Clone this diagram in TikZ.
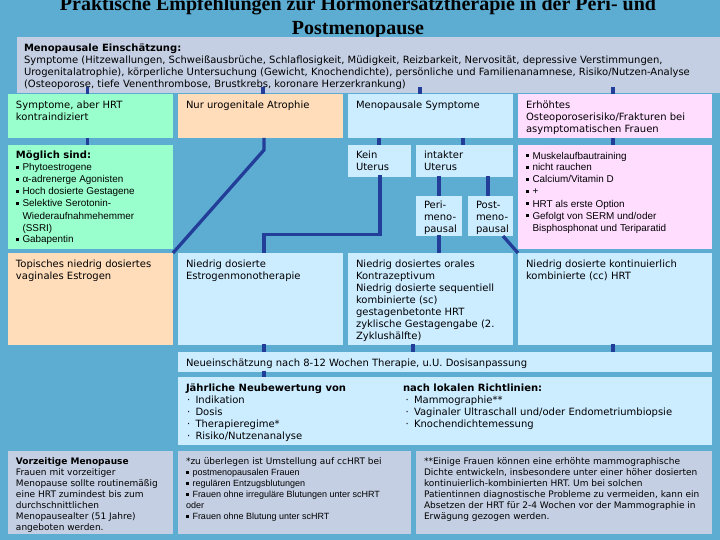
\documentclass[tikz,border=0pt]{standalone}
\usepackage{fontspec}
\setmainfont{DejaVu Sans}
\newfontfamily\titlefont{Liberation Serif}
\newfontfamily\listfont{Liberation Sans}
\definecolor{bgc}{HTML}{5DADD2}
\definecolor{greyc}{HTML}{C4CFE3}
\definecolor{greenc}{HTML}{99FFCC}
\definecolor{peachc}{HTML}{FFDDBB}
\definecolor{bluec}{HTML}{CCECFF}
\definecolor{pinkc}{HTML}{FFDDFF}
\definecolor{linec}{HTML}{233E99}
\newcommand{\bxd}[6]{\node[boxn,fill=#6,minimum width={(#4-#2)*1pt},minimum height={(#5-#3)*1pt}] (#1) at ({(#2+#4)/2},{(#3+#5)/2}) {};}
\newcommand{\lb}{\rule[1.8pt]{3pt}{3pt}\hspace{3.5pt}}
\newcommand{\lc}{\hspace*{6.5pt}}
\newcommand{\dt}{\makebox[8.5pt][l]{·}}
\tikzset{
  boxn/.style={inner sep=0pt,outer sep=0pt,draw=none,rectangle},
  txt/.style={anchor=north west,inner sep=0pt,outer sep=0pt,align=left,text=black,yshift=-1pt,font=\fontsize{10}{12}\selectfont},
  txts/.style={txt,yshift=-0.7pt,font=\fontsize{9}{10.9}\selectfont},
  lst/.style={txt,font=\listfont\fontsize{9.9}{12}\selectfont},
  lsts/.style={txt,yshift=-0.7pt,font=\listfont\fontsize{9}{10.9}\selectfont},
  ttl/.style={inner sep=0pt,align=center,text=black,font=\titlefont\bfseries\fontsize{20}{24}\selectfont},
  conn/.style={draw=linec,line width=3.3pt}
}
\begin{document}
\begin{tikzpicture}[x=1pt,y=-1pt]
\useasboundingbox (0,0) rectangle (720,540);
\fill[bgc] (0,0) rectangle (720,540);
\node[ttl] (title) at (358,16.5) {\strut Praktische Empfehlungen zur Hormonersatztherapie in der Peri- und\\Postmenopause};
% boxes
\bxd{hdr}{17}{37}{720}{93}{greyc}
\bxd{a1}{8}{94}{173}{138}{greenc}
\bxd{b1}{178}{94}{343}{138}{peachc}
\bxd{c1}{348}{94}{513}{138}{bluec}
\bxd{d1}{518}{94}{712}{138}{pinkc}
\bxd{a2}{8}{145}{173}{249}{greenc}
\bxd{kein}{348}{145}{411}{177}{bluec}
\bxd{intakt}{416}{145}{513}{177}{bluec}
\bxd{peri}{416}{196}{462}{236}{bluec}
\bxd{post}{468}{196}{513}{236}{bluec}
\bxd{d2}{518}{145}{712}{249}{pinkc}
\bxd{a3}{8}{253}{173}{345}{peachc}
\bxd{b3}{178}{253}{343}{345}{bluec}
\bxd{c3}{348}{253}{513}{345}{bluec}
\bxd{d3}{518}{253}{712}{345}{bluec}
\bxd{neu}{178}{352}{712}{372}{bluec}
\bxd{jahr}{178}{377}{712}{445}{bluec}
\bxd{vor}{8}{451}{173}{534}{greyc}
\bxd{zu}{178}{451}{411}{534}{greyc}
\bxd{einige}{416}{451}{712}{534}{greyc}
% connectors
\begin{scope}[conn]
\coordinate (bend1) at (264,150);
\coordinate (bend2) at (380,234.5);
\coordinate (bend3) at (264,234.5);
\draw (hdr.south -| 87.5,0) ++(0,-6) -- (a1.north -| 87.5,0);
\draw (hdr.south -| 263,0) ++(0,-6) -- (b1.north -| 263,0);
\draw (hdr.south -| 420,0) ++(0,-6) -- (c1.north -| 420,0);
\draw (hdr.south -| 613,0) ++(0,-6) -- (d1.north -| 613,0);
\draw (a1.south -| 87.5,0) -- (a2.north -| 87.5,0);
\draw (b1.south -| bend1) -- (bend1) -- (a3.north east);
\draw (c1.south -| 379,0) -- (kein.north -| 379,0);
\draw (c1.south -| 463,0) -- (intakt.north -| 463,0);
\draw (d1.south -| 613,0) -- (d2.north -| 613,0);
\draw (kein.south -| bend2) ++(0,-2) -- (bend2) -- (bend3) -- (b3.north -| bend3);
\draw (intakt.south -| 439,0) ++(0,-1) -- (peri.north -| 439,0);
\draw (intakt.south -| 488,0) ++(0,-1) -- (post.north -| 488,0);
\draw (peri.south -| 439,0) ++(0,-1) -- (c3.north -| 439,0);
\draw (post.south -| 503,0) -- (d3.north west);
\draw (b3.south -| 264,0) ++(0,-1) -- (neu.north -| 264,0);
\draw (c3.south -| 413,0) ++(0,-1) -- (neu.north -| 413,0);
\draw (d3.south -| 613,0) ++(0,-1) -- (neu.north -| 613,0);
\draw (neu.south -| 264,0) ++(0,-1.5) -- (jahr.north -| 264,0);
\end{scope}
% texts
\node[txt] (thdr) at (24,42.6) {\strut\textbf{Menopausale Einschätzung:}\\Symptome (Hitzewallungen, Schweißausbrüche, Schlaflosigkeit, Müdigkeit, Reizbarkeit, Nervosität, depressive Verstimmungen,\\Urogenitalatrophie), körperliche Untersuchung (Gewicht, Knochendichte), persönliche und Familienanamnese, Risiko/Nutzen-Analyse\\(Osteoporose, tiefe Venenthrombose, Brustkrebs, koronare Herzerkrankung)};
\node[txt] (ta1) at (16,99.6) {\strut Symptome, aber HRT\\kontraindiziert};
\node[txt] (tb1) at (186,99.6) {\strut Nur urogenitale Atrophie};
\node[txt] (tc1) at (356,99.6) {\strut Menopausale Symptome};
\node[txt] (td1) at (526,99.6) {\strut Erhöhtes\\Osteoporoserisiko/Frakturen bei\\asymptomatischen Frauen};
\node[txt] (ta2h) at (16,149.6) {\strut\textbf{Möglich sind:}};
\node[lst] (ta2) at (16,161.6) {\strut\lb Phytoestrogene\\\lb α-adrenerge Agonisten\\\lb Hoch dosierte Gestagene\\\lb Selektive Serotonin-\\\lc Wiederaufnahmehemmer\\\lc (SSRI)\\\lb Gabapentin};
\node[txt] (tkein) at (356,149.6) {\strut Kein\\Uterus};
\node[txt] (tint) at (424,149.6) {\strut intakter\\Uterus};
\node[txt] (tperi) at (424,199.6) {\strut Peri-\\meno-\\pausal};
\node[txt] (tpost) at (476,199.6) {\strut Post-\\meno-\\pausal};
\node[lst] (td2) at (526,149.6) {\strut\lb Muskelaufbautraining\\\lb nicht rauchen\\\lb Calcium/Vitamin D\\\lb +\\\lb HRT als erste Option\\\lb Gefolgt von SERM und/oder\\\lc Bisphosphonat und Teriparatid};
\node[txt] (ta3) at (16,258) {\strut Topisches niedrig dosiertes\\vaginales Estrogen};
\node[txt] (tb3) at (186,258) {\strut Niedrig dosierte\\Estrogenmonotherapie};
\node[txt] (tc3) at (356,258) {\strut Niedrig dosiertes orales\\Kontrazeptivum\\Niedrig dosierte sequentiell\\kombinierte (sc)\\gestagenbetonte HRT\\zyklische Gestagengabe (2.\\Zyklushälfte)};
\node[txt] (td3) at (526,258) {\strut Niedrig dosierte kontinuierlich\\kombinierte (cc) HRT};
\node[txt] (tneu) at (186,356.6) {\strut Neueinschätzung nach 8-12 Wochen Therapie, u.U. Dosisanpassung};
\node[txt] (tjahr) at (186,381.6) {\strut\textbf{Jährliche Neubewertung von}\\\hspace*{1pt}\dt Indikation\\\hspace*{1pt}\dt Dosis\\\hspace*{1pt}\dt Therapieregime*\\\hspace*{1pt}\dt Risiko/Nutzenanalyse};
\node[txt] (tnach) at (403,381.6) {\strut\textbf{nach lokalen Richtlinien:}\\\hspace*{2.5pt}\dt Mammographie**\\\hspace*{2.5pt}\dt Vaginaler Ultraschall und/oder Endometriumbiopsie\\\hspace*{2.5pt}\dt Knochendichtemessung};
\node[txts] (tvor) at (16,455.5) {\strut\textbf{Vorzeitige Menopause}\\Frauen mit vorzeitiger\\Menopause sollte routinemäßig\\eine HRT zumindest bis zum\\durchschnittlichen\\Menopausealter (51 Jahre)\\angeboten werden.};
\node[txts] (tzu) at (186,455.5) {\strut *zu überlegen ist Umstellung auf ccHRT bei};
\node[lsts] (tzu2) at (186,466.4) {\strut\lb postmenopausalen Frauen\\\lb regulären Entzugsblutungen\\\lb Frauen ohne irreguläre Blutungen unter scHRT\\oder\\\lb Frauen ohne Blutung unter scHRT};
\node[txts] (teinige) at (424,455.5) {\strut **Einige Frauen können eine erhöhte mammographische\\Dichte entwickeln, insbesondere unter einer höher dosierten\\kontinuierlich-kombinierten HRT. Um bei solchen\\Patientinnen diagnostische Probleme zu vermeiden, kann ein\\Absetzen der HRT für 2-4 Wochen vor der Mammographie in\\Erwägung gezogen werden.};
\end{tikzpicture}
\end{document}
